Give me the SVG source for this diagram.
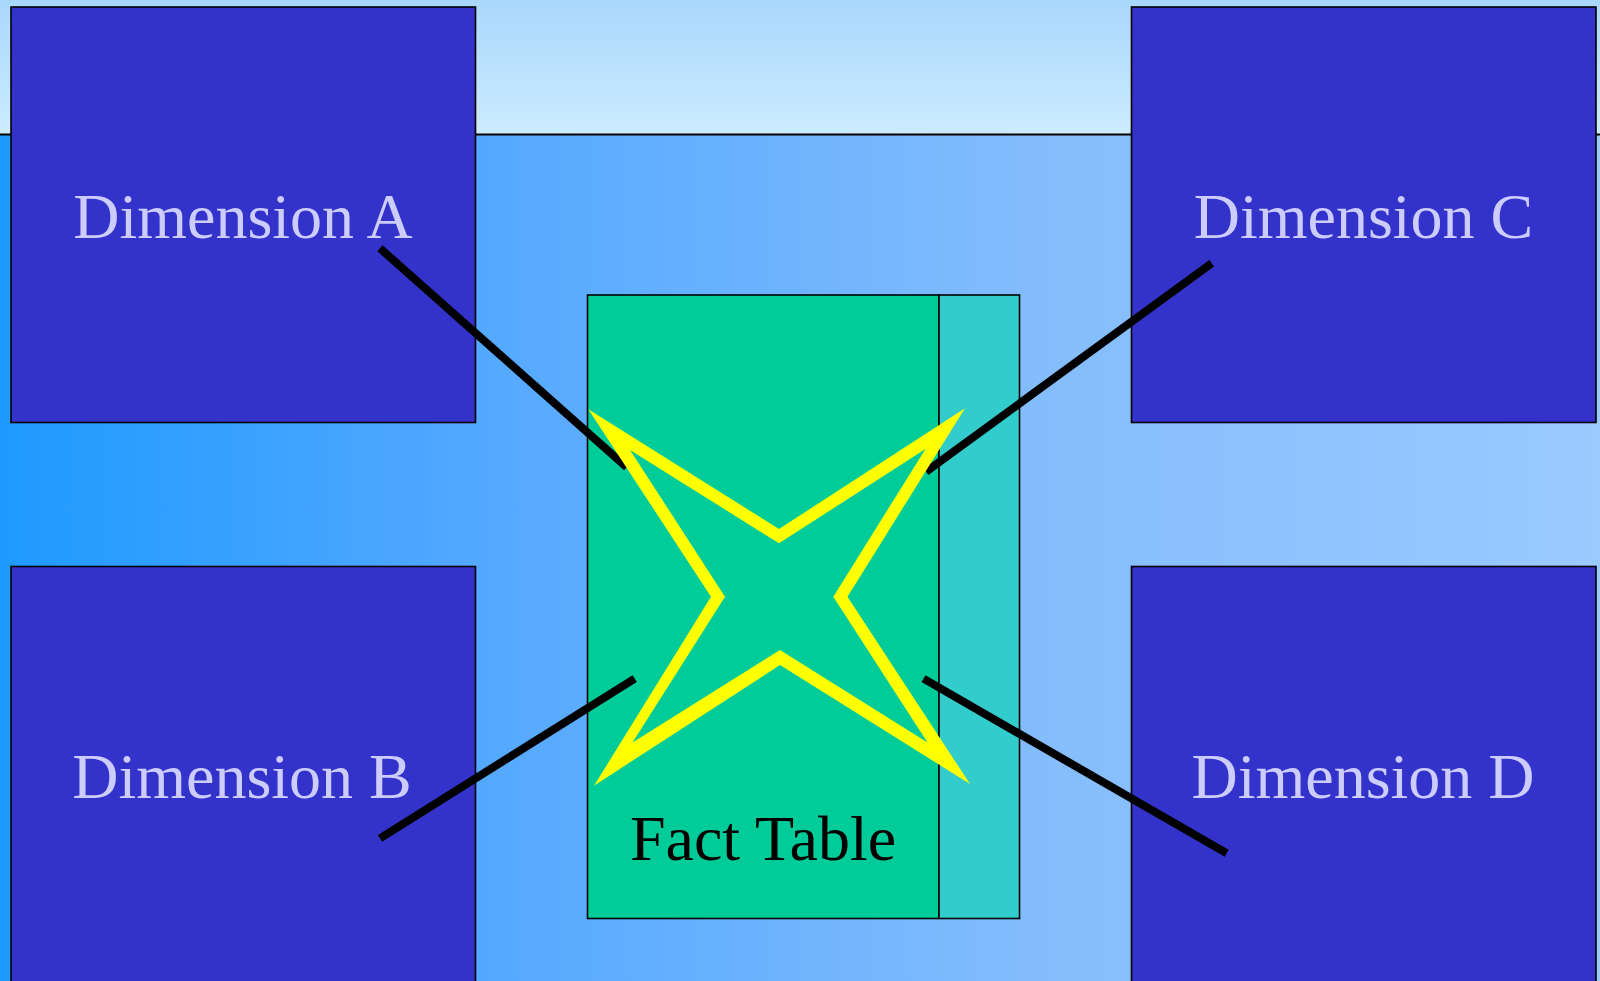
<svg xmlns="http://www.w3.org/2000/svg" width="1600" height="981" viewBox="0 0 1600 981">
  <defs>
    <linearGradient id="topBand" x1="0" y1="0" x2="0" y2="1">
      <stop offset="0" stop-color="#a9d7fc"/>
      <stop offset="1" stop-color="#ccecff"/>
    </linearGradient>
    <linearGradient id="mainBg" x1="0" y1="0" x2="1" y2="0">
      <stop offset="0" stop-color="#1e9aff"/>
      <stop offset="0.29" stop-color="#52a8ff"/>
      <stop offset="0.66" stop-color="#85bdfd"/>
      <stop offset="1" stop-color="#9acaff"/>
    </linearGradient>
    <style>
      .dim { fill: #3333cc; stroke: #000000; stroke-width: 1.6; }
      .dimText { font-family: "Liberation Serif", "Times New Roman", serif; font-size: 64px; fill: #ccccff; text-anchor: middle; }
      .factText { font-family: "Liberation Serif", "Times New Roman", serif; font-size: 64px; fill: #000000; text-anchor: middle; }
      .conn { stroke: #000000; stroke-width: 8; stroke-linecap: butt; fill: none; }
    </style>
  </defs>

  <g id="background">
    <rect x="0" y="0" width="1600" height="134" fill="url(#topBand)"/>
    <rect x="0" y="134" width="1600" height="847" fill="url(#mainBg)"/>
    <line x1="0" y1="134.5" x2="1600" y2="134.5" stroke="#000000" stroke-width="2"/>
  </g>

  <g id="dimension-a">
    <rect class="dim" x="11" y="7" width="464.5" height="415.5"/>
    <text class="dimText" x="243" y="238">Dimension A</text>
  </g>
  <g id="dimension-c">
    <rect class="dim" x="1131.5" y="7" width="464.5" height="415.5"/>
    <text class="dimText" x="1363.5" y="238">Dimension C</text>
  </g>
  <g id="dimension-b">
    <rect class="dim" x="11" y="566.5" width="464.5" height="430"/>
    <text class="dimText" x="242" y="798">Dimension B</text>
  </g>
  <g id="dimension-d">
    <rect class="dim" x="1131.5" y="566.5" width="464.5" height="430"/>
    <text class="dimText" x="1363" y="798">Dimension D</text>
  </g>

  <g id="fact-table">
    <rect x="587.5" y="295" width="351.5" height="623.5" fill="#00cc99" stroke="#000000" stroke-width="1.6"/>
    <rect x="939" y="295" width="80.5" height="623.5" fill="#33cccc" stroke="#000000" stroke-width="1.6"/>
    <text class="factText" x="763" y="860">Fact Table</text>
  </g>

  <g id="connectors">
    <line class="conn" x1="380" y1="248.3" x2="626.7" y2="467.3"/>
    <line class="conn" x1="1211.7" y1="263.3" x2="926" y2="471.7"/>
    <line class="conn" x1="380" y1="838.3" x2="634.7" y2="678.6"/>
    <line class="conn" x1="1226.7" y1="853.3" x2="923.5" y2="678.6"/>
  </g>

  <g id="star">
    <path fill="#ffff00" fill-rule="evenodd" d="M588.3,409.3 L779,529 L965,408.3 L847.5,596.7 L970,784 L780,665 L594,785.7 L711,596.7 Z M630,450 L725,596.7 L632.5,742.5 L780,650 L927.5,742.5 L833.3,596.7 L925.5,449 L779,543.3 Z"/>
  </g>
</svg>
